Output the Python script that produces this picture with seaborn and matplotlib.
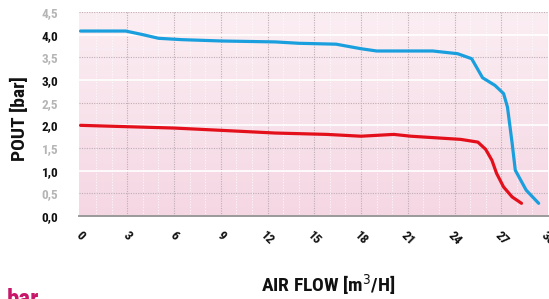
import numpy as np
import pandas as pd
import matplotlib
matplotlib.use("Agg")
import matplotlib.pyplot as plt
import seaborn as sns

# ------------------------------
# Data
# ------------------------------
blue_flow = [0.0, 2.9, 4.0, 5.0, 6.5, 9.1, 12.5, 14.0, 16.4, 18.0, 19.0, 22.6, 24.2, 25.1,
             25.8, 26.6, 27.15, 27.4, 27.7, 27.9, 28.6, 29.4]
blue_pout = [4.08, 4.08, 4.0, 3.92, 3.89, 3.86, 3.84, 3.81, 3.79, 3.69, 3.64, 3.64, 3.58, 3.47,
             3.05, 2.88, 2.70, 2.40, 1.60, 1.01, 0.57, 0.28]

red_flow = [0.0, 6.0, 9.0, 12.5, 15.8, 18.0, 20.1, 21.2, 24.4, 25.5, 26.0, 26.4, 26.7,
            27.15, 27.7, 28.3]
red_pout = [2.0, 1.94, 1.89, 1.83, 1.80, 1.76, 1.80, 1.76, 1.69, 1.63, 1.47, 1.23, 0.94,
            0.64, 0.42, 0.28]

y_ticks = [0.0, 0.5, 1.0, 1.5, 2.0, 2.5, 3.0, 3.5, 4.0, 4.5]
x_ticks = [0, 3, 6, 9, 12, 15, 18, 21, 24, 27, 30]

blue_col = "#1a9fde"
red_col = "#e3101c"

sns.set_style("white")
font = ["Liberation Sans Narrow", "DejaVu Sans Condensed", "Roboto Condensed", "DejaVu Sans"]
plt.rcParams["font.family"] = font
plt.rcParams["font.stretch"] = "condensed"

fig = plt.figure(figsize=(5.49, 2.99), dpi=100)
ax = fig.add_axes([79.3 / 549, (299 - 216) / 299, (548 - 79.3) / 549, (216 - 12) / 299])
ax.set_xlim(-0.08, 30.0)
ax.set_ylim(0, 4.5)

# pink gradient background, lighter at top
grad = np.linspace(0, 1, 256).reshape(-1, 1)
cmap = matplotlib.colors.LinearSegmentedColormap.from_list("pk", ["#fbeef3", "#f5d7e3"])
ax.imshow(grad, extent=[-0.08, 30.0, 0, 4.5], origin="upper", aspect="auto", cmap=cmap, zorder=0)

# grid: minor white dotted verticals, major gray dotted
for x in range(0, 31):
    if x % 3:
        ax.axvline(x, color="white", lw=0.8, ls=(0, (1, 1.5)), zorder=1, alpha=0.8)
for x in x_ticks[1:]:
    ax.axvline(x, color="#bfaeb5", lw=0.8, ls=(0, (1, 1.2)), zorder=1)
for y in y_ticks[1:]:
    if y % 1:
        ax.axhline(y, color="#bfaeb5", lw=0.8, ls=(0, (1, 1.2)), zorder=1)
    else:
        ax.axhline(y, color="white", lw=1.2, zorder=1)

df_blue = pd.DataFrame({"flow": blue_flow, "pout": blue_pout})
df_red = pd.DataFrame({"flow": red_flow, "pout": red_pout})
sns.lineplot(data=df_blue, x="flow", y="pout", ax=ax, color=blue_col, lw=2.3, zorder=3)
sns.lineplot(data=df_red, x="flow", y="pout", ax=ax, color=red_col, lw=2.3, zorder=3)

for s in ["top", "right", "left"]:
    ax.spines[s].set_visible(False)
ax.spines["bottom"].set_color("#9a9a9a")
ax.spines["bottom"].set_linewidth(1.4)
ax.spines["bottom"].set_zorder(4)

ax.set_xticks(x_ticks)
ax.set_xticklabels([str(v) for v in x_ticks], rotation=-45, ha="center", va="top",
                   fontsize=9.5, fontweight="bold", color="#111111")
ax.set_yticks(y_ticks)
ax.set_yticklabels([f"{v:.1f}".replace(".", ",") for v in y_ticks], fontsize=9.5,
                   fontweight="bold")
for lbl, v in zip(ax.get_yticklabels(), y_ticks):
    lbl.set_color("#111111" if v % 1 == 0 else "#b5b5b5")
ax.tick_params(axis="both", length=0)
ax.tick_params(axis="y", pad=15)
ax.tick_params(axis="x", pad=9)
ax.set_xlabel("")
ax.set_ylabel("")

fig.text(20 / 549, 1 - 119 / 299, "POUT [bar]", rotation=90, ha="center", va="center",
         fontsize=14, fontweight="bold", color="#111111")
fig.text(328 / 549, 1 - 285 / 299, "AIR FLOW [m$^3$/H]", ha="center", va="center",
         fontsize=14, fontweight="bold", color="#111111")
fig.text(7 / 549, 11 / 299, "bar", ha="left", va="top", fontsize=18, fontweight="bold",
         color="#c8176b")

fig.savefig("out.png", dpi=100)
